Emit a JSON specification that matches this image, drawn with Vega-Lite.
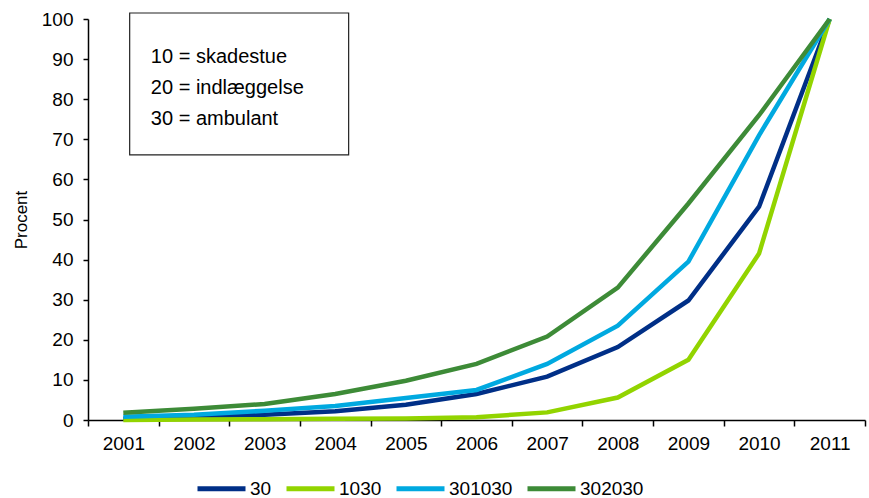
{
  "$schema": "https://vega.github.io/schema/vega-lite/v6.json",
  "width": 777,
  "height": 401,
  "autosize": {"type": "none"},
  "padding": {"left": 88, "top": 19, "right": 4, "bottom": 78},
  "background": "white",
  "config": {
    "view": {"stroke": null},
    "font": "Liberation Sans",
    "axis": {"labelFont": "Liberation Sans", "titleFont": "Liberation Sans", "labelColor": "#000", "titleColor": "#000", "domainColor": "#000", "tickColor": "#000", "grid": false},
    "legend": {"padding": 0, "offset": 0}
  },
  "datasets": {
    "lines": [
      {"year": "2001", "series": "30", "value": 0.3},
      {"year": "2002", "series": "30", "value": 0.8},
      {"year": "2003", "series": "30", "value": 1.3},
      {"year": "2004", "series": "30", "value": 2.2},
      {"year": "2005", "series": "30", "value": 3.8},
      {"year": "2006", "series": "30", "value": 6.5},
      {"year": "2007", "series": "30", "value": 10.8},
      {"year": "2008", "series": "30", "value": 18.2},
      {"year": "2009", "series": "30", "value": 29.8},
      {"year": "2010", "series": "30", "value": 53.2},
      {"year": "2011", "series": "30", "value": 100},
      {"year": "2001", "series": "1030", "value": 0.0},
      {"year": "2002", "series": "1030", "value": 0.1},
      {"year": "2003", "series": "1030", "value": 0.2},
      {"year": "2004", "series": "1030", "value": 0.3},
      {"year": "2005", "series": "1030", "value": 0.4},
      {"year": "2006", "series": "1030", "value": 0.7},
      {"year": "2007", "series": "1030", "value": 1.9},
      {"year": "2008", "series": "1030", "value": 5.6},
      {"year": "2009", "series": "1030", "value": 15.0},
      {"year": "2010", "series": "1030", "value": 41.5},
      {"year": "2011", "series": "1030", "value": 100},
      {"year": "2001", "series": "301030", "value": 0.8},
      {"year": "2002", "series": "301030", "value": 1.3},
      {"year": "2003", "series": "301030", "value": 2.3},
      {"year": "2004", "series": "301030", "value": 3.5},
      {"year": "2005", "series": "301030", "value": 5.5},
      {"year": "2006", "series": "301030", "value": 7.5},
      {"year": "2007", "series": "301030", "value": 14.0},
      {"year": "2008", "series": "301030", "value": 23.5},
      {"year": "2009", "series": "301030", "value": 39.5},
      {"year": "2010", "series": "301030", "value": 71.0},
      {"year": "2011", "series": "301030", "value": 100},
      {"year": "2001", "series": "302030", "value": 1.8},
      {"year": "2002", "series": "302030", "value": 2.8},
      {"year": "2003", "series": "302030", "value": 4.0},
      {"year": "2004", "series": "302030", "value": 6.5},
      {"year": "2005", "series": "302030", "value": 9.8},
      {"year": "2006", "series": "302030", "value": 14.0},
      {"year": "2007", "series": "302030", "value": 20.8},
      {"year": "2008", "series": "302030", "value": 33.0},
      {"year": "2009", "series": "302030", "value": 54.0},
      {"year": "2010", "series": "302030", "value": 76.0},
      {"year": "2011", "series": "302030", "value": 100}
    ],
    "box": [
      {"x1": 2001.09, "x2": 2004.19, "y1": 101.5, "y2": 66.1}
    ],
    "notes": [
      {"x": 2001.39, "y": 90.5, "label": "10 = skadestue"},
      {"x": 2001.39, "y": 82.8, "label": "20 = indlæggelse"},
      {"x": 2001.39, "y": 75.1, "label": "30 = ambulant"}
    ]
  },
  "layer": [
    {
      "data": {"name": "lines"},
      "mark": {"type": "line", "strokeWidth": 4.5, "clip": false},
      "encoding": {
        "x": {
          "field": "year", "type": "ordinal",
          "scale": {"type": "band", "paddingInner": 0, "paddingOuter": 0},
          "axis": {"title": null, "labelAngle": 0, "labelFontSize": 19, "tickBand": "extent", "tickSize": 6, "labelPadding": 8, "domainWidth": 1.5, "tickWidth": 1.5}
        },
        "y": {
          "field": "value", "type": "quantitative",
          "scale": {"domain": [0, 100], "nice": false},
          "axis": {"title": "Procent", "titleFontSize": 17, "titleFontWeight": "normal", "titlePadding": 11, "values": [0,10,20,30,40,50,60,70,80,90,100], "labelFontSize": 19, "tickSize": 5, "labelPadding": 10, "domainWidth": 1.5, "tickWidth": 1.5}
        },
        "color": {
          "field": "series", "type": "nominal",
          "scale": {"domain": ["30", "1030", "301030", "302030"], "range": ["#002f87", "#92d400", "#00a9e0", "#3d8b37"]},
          "legend": {"title": null, "orient": "none", "legendX": 107, "legendY": 443, "direction": "horizontal", "symbolType": "stroke", "symbolSize": 2304, "symbolStrokeWidth": 5, "labelFontSize": 19, "labelOffset": 2, "columnPadding": 4, "labelColor": "#000"}
        },
        "order": {"field": "year"}
      }
    },
    {
      "data": {"name": "box"},
      "mark": {"type": "rect", "fill": "white", "stroke": "#222", "strokeWidth": 1.2, "clip": false},
      "encoding": {
        "x": {"field": "x1", "type": "quantitative", "scale": {"domain": [2000.5, 2011.5], "nice": false, "zero": false}, "axis": null},
        "x2": {"field": "x2"},
        "y": {"field": "y1", "type": "quantitative", "scale": {"domain": [0, 100], "nice": false}, "axis": null},
        "y2": {"field": "y2"}
      }
    },
    {
      "data": {"name": "notes"},
      "mark": {"type": "text", "align": "left", "baseline": "middle", "fontSize": 20, "font": "Liberation Sans", "color": "#000", "clip": false},
      "encoding": {
        "x": {"field": "x", "type": "quantitative", "scale": {"domain": [2000.5, 2011.5], "nice": false, "zero": false}, "axis": null},
        "y": {"field": "y", "type": "quantitative", "axis": null},
        "text": {"field": "label"}
      }
    }
  ],
  "resolve": {"scale": {"x": "independent"}, "axis": {"x": "independent", "y": "independent"}}
}
